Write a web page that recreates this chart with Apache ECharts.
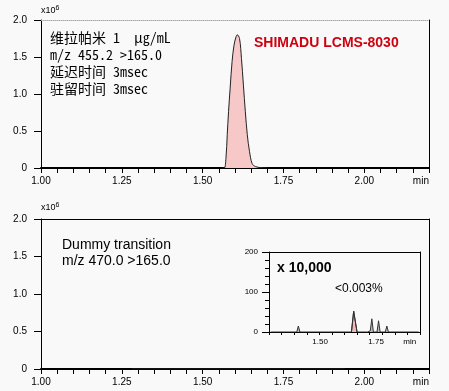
<!DOCTYPE html>
<html><head><meta charset="utf-8">
<script src="https://cdn.jsdelivr.net/npm/echarts@6/dist/echarts.min.js"></script>
<style>html,body{margin:0;padding:0;background:#f9f9f9}#c{width:449px;height:391px}</style>
</head><body><div id="c"></div>
<script>
// ---- data (intensity of main panel in units of 10^6 counts) ----
const peakTimes  = [1.560, 1.567, 1.572, 1.576, 1.580, 1.585, 1.591, 1.597, 1.603, 1.607, 1.614, 1.620, 1.626, 1.632, 1.638, 1.645, 1.653, 1.663, 1.680, 1.700];
const peakValues = [0, 0, 0.13, 0.45, 0.76, 1.08, 1.44, 1.66, 1.77, 1.80, 1.75, 1.48, 1.12, 0.76, 0.45, 0.22, 0.06, 0.02, 0.005, 0];
// dummy transition, raw counts (inset is magnified x 10,000)
const dummyTimes  = [1.28, 1.396, 1.403, 1.410, 1.640, 1.650, 1.665, 1.712, 1.719, 1.724, 1.731, 1.738, 1.754, 1.761, 1.768, 1.791, 1.798, 1.805, 1.94];
const dummyValues = [0, 0, 15, 0, 0, 52, 0, 0, 5, 3, 33, 0, 0, 28, 0, 0, 15, 0, 0];
const filledPeakTimes  = [1.640, 1.650, 1.665];
const filledPeakValues = [0, 52, 0];
// tick labels
const mainXLabels  = [1.00, 1.25, 1.50, 1.75, 2.00];
const mainYLabels  = [0, 0.5, 1.0, 1.5, 2.0];
const insetXLabels = [1.50, 1.75];
const insetYLabels = [0, 100, 200];
const infoLines  = ['维拉帕米 1  μg/mL', 'm/z 455.2 >165.0', '延迟时间 3msec', '驻留时间 3msec'];
const brandText  = 'SHIMADU LCMS-8030';
const dummyLines = ['Dummy transition', 'm/z 470.0 >165.0'];
const zoomText   = 'x 10,000';
const ratioText  = '<0.003%';

const chart = echarts.init(document.getElementById('c'));
const LBL = 'Liberation Sans, Arial, sans-serif';
const pairs = (xs, ys, f) => xs.map((x, i) => [x, f ? f(ys[i]) : ys[i]]);

const MAIN_MIN = 1.0, MAIN_MAX = 2.2, MIN_LABEL_POS = 2.175;
const mainTicks = []; for (let i = 0; i <= 24; i++) mainTicks.push(+(MAIN_MIN + i * 0.05).toFixed(2));
function mainX(gi) {
  return {
    gridIndex: gi, type: 'value', min: MAIN_MIN, max: MAIN_MAX, position: 'bottom',
    axisLine: { show: true, onZero: false, lineStyle: { color: '#000', width: 2 } },
    axisTick: { show: true, customValues: mainTicks, length: 5, lineStyle: { color: '#000', width: 1 } },
    axisLabel: { customValues: mainXLabels.concat([MIN_LABEL_POS]), margin: 8, fontSize: 10, fontFamily: LBL, color: '#000',
      formatter: v => v > 2.1 ? 'min' : v.toFixed(2) },
    splitLine: { show: false }
  };
}
function frameX(gi, style) {
  return { gridIndex: gi, type: 'value', min: 0, max: 1, position: 'top',
    axisLine: { show: true, onZero: false, lineStyle: style }, axisTick: { show: false }, axisLabel: { show: false }, splitLine: { show: false } };
}
function frameY(gi) {
  return { gridIndex: gi, type: 'value', min: 0, max: 1, position: 'right',
    axisLine: { show: true, onZero: false, lineStyle: { color: '#000', width: 1 } }, axisTick: { show: false }, axisLabel: { show: false }, splitLine: { show: false } };
}
function mainY(gi) {
  return { gridIndex: gi, type: 'value', min: mainYLabels[0], max: mainYLabels[mainYLabels.length - 1], interval: 0.5, position: 'left',
    axisLine: { show: true, onZero: false, lineStyle: { color: '#000', width: 1 } },
    axisTick: { show: true, length: 7, lineStyle: { color: '#000' } },
    axisLabel: { margin: 14, fontSize: 10, fontFamily: LBL, color: '#000',
      formatter: v => v === 0 ? '0' : v.toFixed(1) },
    splitLine: { show: false } };
}
const IN_MIN = 1.272, IN_MAX = 1.946;
const insetTicks = []; for (let i = 0; i <= 12; i++) insetTicks.push(IN_MIN + i * (IN_MAX - IN_MIN) / 12);

const option = {
  backgroundColor: '#f9f9f9',
  animation: false,
  grid: [
    { left: 41, top: 20, width: 388, height: 148, show: false },
    { left: 41, top: 219, width: 388, height: 150, show: false },
    { left: 269, top: 252, width: 151, height: 80, show: false }
  ],
  xAxis: [
    mainX(0),
    frameX(0, { color: '#aaa', width: 1, type: 'dotted' }),
    mainX(1),
    frameX(1, { color: '#000', width: 1 }),
    { gridIndex: 2, type: 'value', min: IN_MIN, max: IN_MAX, position: 'bottom',
      axisLine: { show: true, onZero: false, lineStyle: { color: '#000', width: 1 } },
      axisTick: { show: true, customValues: insetTicks, length: 3, lineStyle: { color: '#000' } },
      axisLabel: { customValues: insetXLabels.concat([1.90]), margin: 6, fontSize: 8, fontFamily: LBL, color: '#000',
        formatter: v => v > 1.85 ? 'min' : v.toFixed(2) },
      splitLine: { show: false } },
    frameX(2, { color: '#000', width: 1 })
  ],
  yAxis: [
    mainY(0), frameY(0), mainY(1), frameY(1),
    { gridIndex: 2, type: 'value', min: insetYLabels[0], max: insetYLabels[2], interval: 100, position: 'left',
      axisLine: { show: true, onZero: false, lineStyle: { color: '#000', width: 1 } },
      axisTick: { show: true, length: 7, lineStyle: { color: '#000' } },
      minorTick: { show: true, splitNumber: 5, length: 4, lineStyle: { color: '#000' } },
      axisLabel: { margin: 11, fontSize: 8, fontFamily: LBL, color: '#000' },
      splitLine: { show: false } },
    frameY(2)
  ],
  series: [
    { type: 'line', xAxisIndex: 0, yAxisIndex: 0, data: pairs(peakTimes, peakValues), smooth: 0.35, showSymbol: false,
      lineStyle: { color: '#222', width: 1 }, areaStyle: { color: '#f6c8c8', opacity: 1 } },
    { type: 'line', xAxisIndex: 2, yAxisIndex: 2, data: pairs(dummyTimes, dummyValues, v => v / 1e6), showSymbol: false,
      lineStyle: { color: '#222', width: 1 } },
    { type: 'line', xAxisIndex: 4, yAxisIndex: 4, data: pairs(dummyTimes, dummyValues), showSymbol: false,
      lineStyle: { color: '#333', width: 1 }, areaStyle: { color: '#bbb', opacity: 1 } },
    { type: 'line', xAxisIndex: 4, yAxisIndex: 4, data: pairs(filledPeakTimes, filledPeakValues), showSymbol: false,
      lineStyle: { color: '#333', width: 1 }, areaStyle: { color: '#f4b8b8', opacity: 1 } }
  ],
  graphic: []
};

function txt(x, y, text, font, fill) {
  return { type: 'text', x: x, y: y, silent: true,
    style: { text: text, font: font, fill: fill || '#000', align: 'left', verticalAlign: 'middle',
      textAlign: 'left', textVerticalAlign: 'middle' } };
}
const mono = "14px 'Noto Sans Mono CJK SC', 'Noto Sans CJK SC', monospace";
infoLines.forEach((s, i) => option.graphic.push(txt(50, 38 + i * 17, s, mono)));
option.graphic.push(txt(254, 43, brandText, "bold 14px 'Liberation Sans', Arial, sans-serif", '#d00010'));
dummyLines.forEach((s, i) => option.graphic.push(txt(62, 245 + i * 16, s, "14px 'Liberation Sans', Arial, sans-serif")));
option.graphic.push(txt(277, 268, zoomText, "bold 14px 'Liberation Sans', Arial, sans-serif"));
option.graphic.push(txt(335, 289, ratioText, "12px 'Liberation Sans', Arial, sans-serif"));
[11, 208].forEach(y => option.graphic.push({ type: 'text', x: 41, y: y, silent: true,
  style: { text: '{a|x10}{s|6}', rich: { a: { fontSize: 9, fontFamily: LBL, fill: '#000', color: '#000' },
    s: { fontSize: 7, fontFamily: LBL, fill: '#000', color: '#000', padding: [0, 0, 5, 0] } },
    verticalAlign: 'middle', textVerticalAlign: 'middle' } }));

chart.setOption(option);
</script></body></html>
